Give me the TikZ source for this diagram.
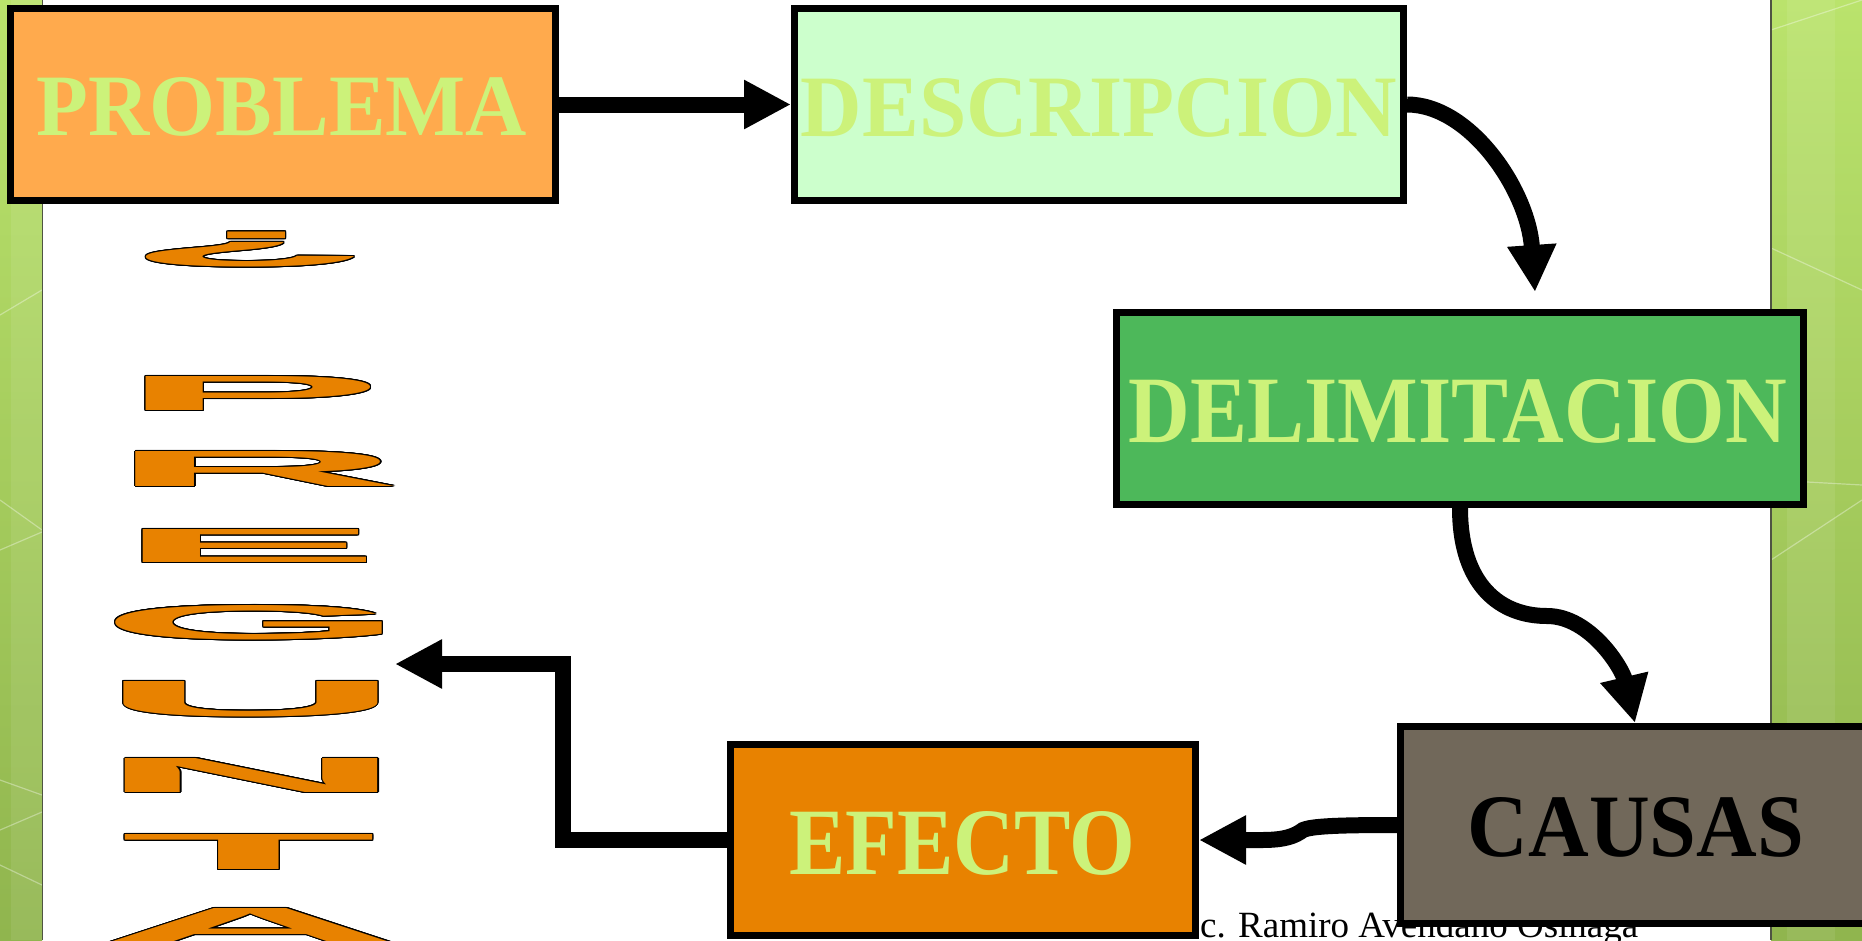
\documentclass[tikz,border=0pt]{standalone}
\usepackage{fontspec}
\setmainfont{Liberation Serif}
\newfontfamily\pregfont{Liberation Sans}
\usepackage{contour}
\contourlength{1.1pt}
\usetikzlibrary{arrows.meta}
\definecolor{probfill}{HTML}{FFAA4D}
\definecolor{descfill}{HTML}{CCFFCC}
\definecolor{delimfill}{HTML}{4DB85A}
\definecolor{causfill}{HTML}{71685A}
\definecolor{efecfill}{HTML}{E88200}
\definecolor{txtgreen}{HTML}{CCF27A}
\definecolor{wordorange}{HTML}{E88200}
\definecolor{stripTop}{HTML}{BAE36C}
\definecolor{stripBot}{HTML}{90B54E}
\definecolor{stripEdge}{HTML}{4F5443}
\newcommand\boxtext[3]{\resizebox{#1pt}{#2pt}{\bfseries #3}}
\newcommand\waletter[3]{\textcolor{wordorange}{\contour{black}{\resizebox{#1pt}{#2pt}{\pregfont\bfseries #3}}}}
\newcommand\waletterS[3]{\textcolor{wordorange}{\contour{black}{\resizebox*{#1pt}{#2pt}{\pregfont\bfseries #3}}}}
\begin{document}
\begin{tikzpicture}[x=1pt,y=-1pt,
  box/.style={draw=black,line width=7pt,rectangle,inner sep=0pt},
  conn/.style={draw=black,line width=16pt,-{Triangle[length=47pt,width=46pt]}},
  lbl/.style={inner sep=0pt,text=txtgreen},
  wa/.style={inner sep=0pt,outer sep=0pt}]
\useasboundingbox (0,0) rectangle (1862,940);
\fill[white] (0,0) rectangle (1862,940);
% side strips
\shade[top color=stripTop,bottom color=stripBot] (0,0) rectangle (42,940);
\shade[top color=stripTop,bottom color=stripBot] (1771,0) rectangle (1862,940);
\fill[white,opacity=0.08] (11,0) rectangle (42,940);
\fill[white,opacity=0.08] (1787,0) rectangle (1835,940);
\begin{scope}
\clip (0,0) rectangle (42,940) (1771,0) rectangle (1862,940);
\begin{scope}[draw=white,opacity=0.35,line width=1.2pt]
\draw (0,315) -- (42,290);
\draw (0,500) -- (42,530);
\draw (0,550) -- (42,532);
\draw (0,780) -- (42,795);
\draw (0,830) -- (42,812);
\draw (0,865) -- (42,885);
\draw (1771,30) -- (1862,0);
\draw (1771,248) -- (1862,290);
\draw (1771,480) -- (1862,485);
\draw (1771,560) -- (1862,500);
\end{scope}
\end{scope}
\draw[stripEdge,line width=1.5pt] (42.5,0) -- (42.5,940);
\draw[stripEdge,line width=1.5pt] (1771,0) -- (1771,940);
% footer
\node[anchor=base west,inner sep=0pt,font=\fontsize{37}{40}\selectfont] (foot) at (1200,937) {c. Ramiro Avendaño Osinaga};
% boxes
\node[box,fill=probfill,minimum width=545pt,minimum height=192pt] (prob) at (283,104.5) {};
\node[box,fill=descfill,minimum width=609pt,minimum height=192pt] (desc) at (1099,104.5) {};
\node[box,fill=delimfill,minimum width=687pt,minimum height=192pt] (delim) at (1460,408.5) {};
\node[box,fill=efecfill,minimum width=465pt,minimum height=191pt] (efec) at (963,840) {};
\node[box,fill=causfill,minimum width=520pt,minimum height=197pt] (caus) at (1660.5,825) {};
% texts
\node[lbl] (probT) at (282,107) {\boxtext{490}{58}{PROBLEMA}};
\node[lbl] (descT) at (1099,108) {\boxtext{596}{58}{DESCRIPCION}};
\node[lbl] (delimT) at (1458,411.5) {\boxtext{658}{63}{DELIMITACION}};
\node[lbl] (efecT) at (962,843.5) {\boxtext{346}{63}{EFECTO}};
\node[inner sep=0pt,text=black] (causT) at (1636,827.5) {\boxtext{336}{59}{CAUSAS}};
% connectors
\coordinate (t2) at (1535,292);
\coordinate (t3) at (1635,723);
\coordinate (k5) at (563,664);
\coordinate (t5) at (395,664);
\draw[conn] (prob.east) -- (desc.west);
\draw[conn] (desc.east) .. controls (1470,104.5) and (1528,190) .. (t2);
\draw[conn] (delim.south) .. controls (1460,585) and (1500,616) .. (1547,616) .. controls (1590,616) and (1622,668) .. (t3);
\draw[conn] (caus.west) .. controls (1340,825) and (1312,826) .. (1303,830) .. controls (1295,836) and (1285,840) .. (1262,840) -- (efec.east);
\draw[conn] (efec.west) -| (k5) -- (t5);
% vertical word art
\node[wa] (q0) at (249,250) {\waletterS{250}{35}{¿}};
\node[wa] (q1) at (252,394) {\waletter{264}{34}{P}};
\node[wa] (q2) at (256,469.5) {\waletter{294}{35}{R}};
\node[wa] (q3) at (249,546.5) {\waletter{265}{33}{E}};
\node[wa] (q4) at (253,623) {\waletter{306}{34}{G}};
\node[wa] (q5) at (251,699.5) {\waletter{305}{35}{U}};
\node[wa] (q6) at (252,776) {\waletter{310}{34}{N}};
\node[wa] (q7) at (249,852.5) {\waletter{256}{35}{T}};
\node[wa] (q8) at (251,926.5) {\waletter{308}{35}{A}};
\end{tikzpicture}
\end{document}
